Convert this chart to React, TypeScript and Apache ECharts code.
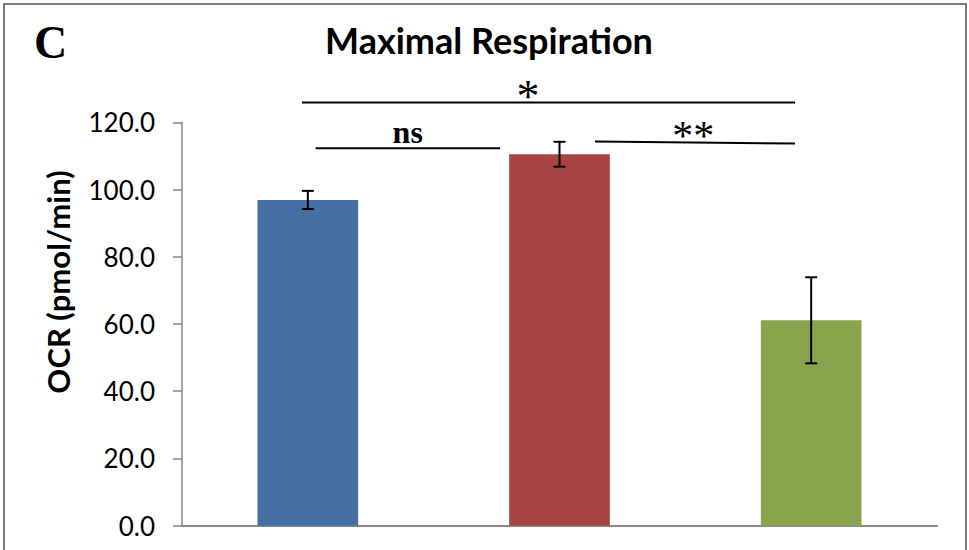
import React, { useEffect, useRef } from "react";
import * as echarts from "echarts";

const categories = ["Group A", "Group B", "Group C"];
const values = [96.9, 110.5, 61.1];
const errors = [2.7, 3.7, 12.8];
const barColors = ["#4470A4", "#A84543", "#88A44C"];
const yTicks = { min: 0, max: 120, interval: 20 };

// significance annotations: category-index span, value height, label
const sigLabels = ["*", "ns", "**"];
const sigFrom = [-0.023, 0.031, 1.141];
const sigTo = [1.936, 0.764, 1.936];
const sigLevel = [125.9, 112.3, 114.0];
const sigTextAt = [0.875, 0.397, 1.531];

export default function App() {
  const ref = useRef<HTMLDivElement>(null);
  useEffect(() => {
    const chart = echarts.init(ref.current!, null, { renderer: "svg" });
    const option: any = {
      animation: false,
      backgroundColor: "#ffffff",
      grid: { left: 182, right: 32, top: 122.3, bottom: 24.3, containLabel: false },
      xAxis: {
        type: "category",
        data: categories,
        axisLine: { lineStyle: { color: "#8a8a8a", width: 2 } },
        axisTick: { show: false },
        axisLabel: { show: false },
      },
      yAxis: {
        type: "value",
        min: yTicks.min,
        max: yTicks.max,
        interval: yTicks.interval,
        splitLine: { show: false },
        axisLine: { show: true, lineStyle: { color: "#8a8a8a", width: 1.5 } },
        axisTick: { show: true, inside: false, length: 9, lineStyle: { color: "#8a8a8a", width: 1.5 } },
        axisLabel: {
          margin: 27,
          color: "#000",
          fontFamily: "Lato",
          fontSize: 26,
          formatter: (v: number) => v.toFixed(1),
        },
      },
      series: [
        {
          type: "bar",
          barWidth: "40%",
          data: values.map((v, i) => ({ value: v, itemStyle: { color: barColors[i] } })),
          z: 2,
        },
        {
          type: "custom",
          z: 5,
          data: values.map((v, i) => [i, v - errors[i], v + errors[i]]),
          renderItem: (params: any, api: any) => {
            const x = api.value(0);
            const lo = api.coord([x, api.value(1)]);
            const hi = api.coord([x, api.value(2)]);
            const cap = 6;
            const style = { stroke: "#000", lineWidth: 2 };
            return {
              type: "group",
              children: [
                { type: "line", shape: { x1: lo[0], y1: lo[1], x2: hi[0], y2: hi[1] }, style },
                { type: "line", shape: { x1: lo[0] - cap, y1: lo[1], x2: lo[0] + cap, y2: lo[1] }, style },
                { type: "line", shape: { x1: hi[0] - cap, y1: hi[1], x2: hi[0] + cap, y2: hi[1] }, style },
              ],
            };
          },
        },
      ],
    };
    chart.setOption(option);

    const p0 = chart.convertToPixel({ gridIndex: 0 }, [0, 0]) as number[];
    const p1 = chart.convertToPixel({ gridIndex: 0 }, [1, 0]) as number[];
    const band = p1[0] - p0[0];
    const xAt = (f: number) => p0[0] + f * band;
    const yAt = (v: number) => (chart.convertToPixel({ gridIndex: 0 }, [0, v]) as number[])[1];

    const graphics: any[] = [
      {
        type: "rect",
        shape: { x: 4, y: 4, width: 962, height: 580 },
        style: { fill: "none", stroke: "#7a7a7a", lineWidth: 2 },
        silent: true,
      },
      {
        type: "text",
        x: 34,
        y: 42,
        style: {
          text: "C",
          fontFamily: "Liberation Serif",
          fontWeight: "bold",
          fontSize: 46,
          fill: "#000",
          verticalAlign: "middle",
          align: "left",
        },
      },
      {
        type: "text",
        x: 489,
        y: 40,
        style: {
          text: "Maximal Respiration",
          fontFamily: "Lato",
          fontWeight: "bold",
          fontSize: 36,
          fill: "#000",
          verticalAlign: "middle",
          align: "center",
        },
      },
      {
        type: "text",
        x: 58,
        y: 282,
        rotation: Math.PI / 2,
        style: {
          text: "OCR (pmol/min)",
          fontFamily: "Lato",
          fontWeight: "bold",
          fontSize: 31,
          fill: "#000",
          verticalAlign: "middle",
          align: "center",
        },
      },
    ];
    sigLabels.forEach((lab, i) => {
      const y = yAt(sigLevel[i]);
      const slant = lab === "**" ? 2 : 0;
      graphics.push({
        type: "line",
        shape: { x1: xAt(sigFrom[i]), y1: y - slant / 2, x2: xAt(sigTo[i]), y2: y + slant / 2 },
        style: { stroke: "#000", lineWidth: 2 },
      });
      const isStar = lab.indexOf("*") >= 0;
      const cx = xAt(sigTextAt[i]);
      graphics.push({
        type: "text",
        x: cx,
        y: isStar ? y - 6 : y - 16,
        style: {
          text: lab,
          fontFamily: "Liberation Serif",
          fontWeight: isStar ? "normal" : "bold",
          fontSize: lab === "*" ? 46 : lab === "**" ? 42 : 32,
          fill: "#000",
          align: "center",
          verticalAlign: "middle",
        },
      });
    });
    chart.setOption({ graphic: graphics });
    return () => chart.dispose();
  }, []);
  return (
    <div
      ref={ref}
      style={{ position: "absolute", left: 0, top: 0, width: 969, height: 550 }}
    />
  );
}
